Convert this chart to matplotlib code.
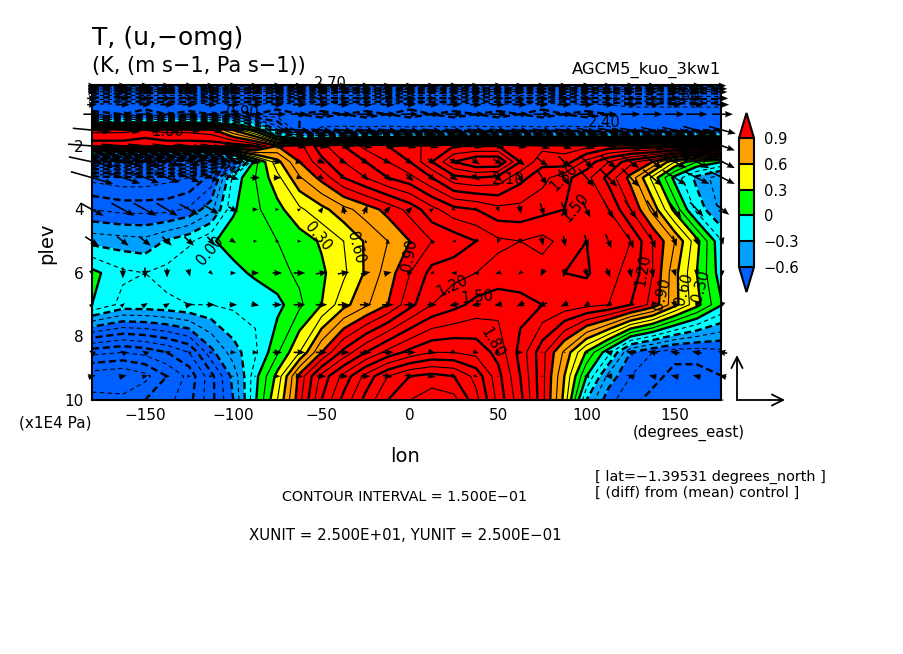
import matplotlib
matplotlib.use("Agg")
import matplotlib.pyplot as plt
import numpy as np

W, H = 904, 654

lon = [-180, -162.5, -150, -137.5, -125, -112.5, -100, -87.5, -75, -62.5, -50, -37.5, -25, -12.5, 0,
       12.5, 25, 37.5, 50, 62.5, 75, 87.5, 100, 112.5, 125, 137.5, 150, 162.5, 177]
plev = [0.1, 0.2, 0.3, 0.5, 0.7, 1, 1.5, 2, 2.5, 3, 4, 5, 6, 7, 8.5, 9.25, 10]

# temperature difference (K), top level first
T_01 = [-3.0, -3.0, -2.95, -3.0, -3.05, -3.0, -2.95, -3.0, -3.0, -3.05, -3.0, -3.0, -2.95, -3.0, -3.0, -3.05, -3.0, -3.0, -2.95, -3.0, -3.0, -3.05, -3.0, -3.0, -2.95, -3.0, -3.0, -3.05, -3.0]
T_02 = [-2.6, -2.55, -2.6, -2.65, -2.6, -2.55, -2.6, -2.6, -2.65, -2.6, -2.55, -2.6, -2.6, -2.65, -2.6, -2.55, -2.6, -2.6, -2.65, -2.6, -2.55, -2.6, -2.6, -2.65, -2.6, -2.55, -2.6, -2.6, -2.65]
T_03 = [-2.2, -2.25, -2.2, -2.15, -2.2, -2.25, -2.2, -2.15, -2.2, -2.25, -2.2, -2.15, -2.2, -2.25, -2.2, -2.15, -2.2, -2.25, -2.2, -2.15, -2.2, -2.25, -2.2, -2.15, -2.2, -2.25, -2.2, -2.15, -2.2]
T_05 = [-1.75, -1.7, -1.75, -1.8, -1.75, -1.7, -1.75, -1.8, -1.75, -1.7, -1.75, -1.8, -1.75, -1.7, -1.75, -1.8, -1.75, -1.7, -1.75, -1.8, -1.75, -1.7, -1.75, -1.8, -1.85, -1.85, -1.9, -1.85, -1.85]
T_07 = [-1.3, -1.3, -1.25, -1.3, -1.3, -1.25, -1.3, -1.3, -1.25, -1.3, -1.3, -1.25, -1.3, -1.3, -1.25, -1.3, -1.3, -1.25, -1.3, -1.3, -1.25, -1.3, -1.3, -1.35, -1.4, -1.4, -1.4, -1.4, -1.4]
T_1 = [-1.15, -1.2, -1.15, -1.2, -1.15, -1.2, -1.15, -1.2, -1.15, -1.2, -1.15, -1.2, -1.15, -1.2, -1.15, -1.2, -1.15, -1.2, -1.15, -1.2, -1.15, -1.2, -1.15, -1.2, -1.2, -1.2, -1.2, -1.2, -1.2]
T_15 = [1.0, 1.0, 1.05, 1.0, 1.0, 0.95, 0.6, 0.2, -0.6, -1.2, -1.4, -1.4, -1.4, -1.4, -1.4, -1.4, -1.4, -1.4, -1.4, -1.4, -1.4, -1.4, -1.4, -1.4, -1.3, -1.3, -1.3, -1.25, -1.2]
T_2 = [1.3, 1.3, 1.35, 1.3, 1.3, 1.3, 1.3, 1.2, 0.9, 1.0, 1.3, 1.5, 1.7, 1.8, 1.9, 2.0, 2.1, 2.1, 2.1, 2.0, 2.0, 2.0, 2.0, 1.9, 1.9, 1.9, 1.9, 1.9, 1.8]
T_25 = [-2.4, -2.4, -2.4, -2.4, -2.35, -2.2, -1.0, 0.1, 0.55, 0.9, 1.15, 1.35, 1.5, 1.65, 1.8, 2.1, 2.4, 2.55, 2.55, 2.1, 1.85, 1.9, 1.6, 1.35, 1.1, 0.9, 0.45, 0.15, 0.0]
T_3 = [-1.1, -1.15, -1.15, -1.1, -1.05, -0.85, -0.1, 0.15, 0.4, 0.73, 0.95, 1.2, 1.35, 1.5, 1.6, 1.8, 2.05, 2.1, 2.05, 1.85, 1.7, 1.55, 1.4, 1.15, 0.85, 0.4, -0.05, -0.35, -0.55]
T_4 = [-0.75, -0.8, -0.8, -0.8, -0.72, -0.5, -0.02, 0.12, 0.25, 0.42, 0.55, 0.7, 0.82, 0.95, 1.1, 1.3, 1.45, 1.5, 1.6, 1.6, 1.55, 1.5, 1.45, 1.35, 1.05, 0.7, 0.25, -0.2, -0.5]
T_5 = [-0.35, -0.38, -0.4, -0.28, -0.18, -0.02, 0.07, 0.1, 0.15, 0.22, 0.32, 0.45, 0.62, 0.75, 0.9, 1.05, 1.1, 1.2, 1.32, 1.35, 1.3, 1.4, 1.5, 1.45, 1.35, 1.05, 0.75, 0.35, -0.15]
T_6 = [0.05, -0.12, -0.15, -0.1, 0.0, -0.02, -0.05, 0.03, 0.1, 0.18, 0.27, 0.42, 0.62, 0.82, 1.05, 1.25, 1.3, 1.35, 1.4, 1.42, 1.42, 1.5, 1.52, 1.4, 1.3, 1.05, 0.65, 0.3, -0.1]
T_7 = [0.0, -0.2, -0.2, -0.18, -0.15, -0.15, -0.12, -0.12, -0.05, 0.12, 0.3, 0.55, 0.72, 0.9, 1.15, 1.35, 1.45, 1.55, 1.6, 1.55, 1.5, 1.45, 1.4, 1.35, 1.2, 1.0, 0.65, 0.35, 0.0]
T_85 = [-1.3, -1.35, -1.3, -1.2, -1.05, -0.65, -0.37, -0.18, 0.13, 0.45, 0.9, 1.25, 1.5, 1.7, 1.85, 1.95, 1.95, 1.9, 1.75, 1.45, 1.1, 0.72, 0.28, -0.1, -0.6, -0.75, -0.85, -0.85, -0.8]
T_925 = [-1.75, -1.8, -1.7, -1.5, -1.3, -0.95, -0.55, -0.05, 0.35, 0.95, 1.4, 1.7, 2.0, 2.25, 2.4, 2.45, 2.4, 2.2, 1.85, 1.5, 1.1, 0.6, 0.0, -0.5, -0.75, -0.85, -0.95, -0.95, -0.9]
T_10 = [-1.6, -1.6, -1.5, -1.4, -1.25, -0.95, -0.6, -0.02, 0.45, 1.0, 1.5, 1.85, 2.15, 2.4, 2.55, 2.65, 2.6, 2.3, 1.9, 1.55, 1.1, 0.55, -0.3, -0.7, -0.85, -0.95, -1.0, -1.0, -0.95]

# zonal wind (m s-1)
u_01 = [4, 4, 5, 4, 5, 4, 5, 4, 5, 4, 5, 4, 5, 4, 4, 4, 5, 4, 5, 4, 4, 4, 5, 4, 5, 4, 4, 5, 4]
u_02 = [4, 5, 5, 4, 5, 5, 4, 5, 5, 5, 4, 5, 5, 5, 5, 4, 5, 5, 5, 4, 5, 5, 5, 4, 5, 5, 5, 5, 5]
u_03 = [4, 5, 6, 5, 5, 6, 5, 5, 6, 5, 5, 6, 5, 5, 6, 5, 5, 6, 5, 5, 6, 5, 5, 6, 5, 5, 6, 5, 5]
u_05 = [5, 6, 6, 5, 6, 6, 6, 5, 6, 6, 6, 5, 6, 6, 6, 5, 6, 6, 6, 5, 6, 6, 6, 5, 6, 6, 6, 6, 6]
u_07 = [5, 7, 6, 7, 7, 6, 7, 7, 6, 7, 7, 6, 7, 7, 6, 7, 7, 6, 7, 7, 6, 7, 7, 6, 7, 7, 7, 7, 7]
u_1 = [9, 9, 9, 9, 9, 9, 9, 9, 9, 9, 9, 9, 9, 9, 9, 9, 9, 9, 9, 9, 9, 9, 9, 9, 10, 10, 10, 11, 11]
u_15 = [20, 18, 16, 14, 12, 12, 12, 11, 12, 11, 11, 10, 10, 10, 10, 10, 9, 9, 9, 9, 10, 10, 10, 11, 11, 12, 13, 14, 14]
u_2 = [25, 22, 18, 15, 13, 11, 9, 8, 7, 7, 7, 7, 7, 7, 7, 7, 7, 7, 7, 7, 8, 8, 9, 10, 11, 12, 13, 13, 13]
u_25 = [24, 20, 16, 14, 12, 10, 8, 6, 5, 4, 4, 4, 4, 4, 4, 4, 4, 4, 5, 5, 6, 6, 7, 8, 9, 10, 12, 13, 13]
u_3 = [22, 18, 15, 13, 11, 9, 6, 5, 4, 3, 3, 3, 3, 4, 4, 4, 4, 4, 4, 4, 5, 6, 8, 9, 9, 10, 12, 13, 13]
u_4 = [12, 12, 12, 11, 10, 8, 5, 3, 2, 2, 2, -1, 2, 3, 3, 2, 2, 1, 1, 1, 2, 3, 4, 5, 6, 6, 7, 7, 7]
u_5 = [7, 6, 6, 5, 5, 4, 3, 2, 2, 2, 1, 1, 0, 0, -1, -2, -2, -2, -1, 0, 1, 1, 2, 3, 3, 3, 2, 2, 1]
u_6 = [1, 0, 0, 0, 1, 2, 3, 4, 5, 6, 6, 6, 5, 4, 3, -2, -3, -3, -3, -2, -2, -1, 1, 2, 1, 1, 1, 0, 0]
u_7 = [2, 2, 3, 3, 4, 4, 4, 4, 5, 6, 6, 6, 6, 6, 6, 5, -5, -5, -4, -4, -5, -4, -3, -3, -3, -2, 1, -1, -1]
u_85 = [-3, -3, -3, -3, -2, 2, 3, 3, 5, 6, 6, 6, 6, 6, 6, 4, 3, 3, 3, 3, 1, -1, -2, -4, -5, -5, -5, -5, -5]
u_925 = [4, 4, 3, 3, 2, 2, 1, 1, 3, 4, 5, 5, 5, 5, 5, 4, 3, 2, 1, 1, 0, -1, -3, -4, -4, -4, -4, -4, -4]
u_10 = [1, 1, 1, 1, 1, 0, 0, 0, 1, 1, 1, 1, 1, 1, 1, 1, 1, 0, 0, 0, 0, 0, -1, -1, -1, -1, -1, -1, -1]

# omega (Pa s-1), positive downward
omg_top = [0.0] * len(lon)
omg_15 = [0.02, 0.02, 0.01, 0.01, 0.01, 0.01, 0.01, 0.01, 0.01, 0.01, 0.01, 0.01, 0.01, 0.01, 0.01, 0.01, 0.01, 0.01, 0.01, 0.01, 0.01, 0.01, 0.02, 0.02, 0.02, 0.03, 0.03, 0.04, 0.04]
omg_2 = [0.02, 0.02, 0.02, 0.02, 0.02, 0.02, 0.02, 0.02, 0.02, 0.02, 0.02, 0.02, 0.02, 0.02, 0.02, 0.02, 0.02, 0.02, 0.02, 0.02, 0.03, 0.03, 0.03, 0.03, 0.04, 0.04, 0.05, 0.05, 0.05]
omg_25 = [0.055, 0.05, 0.05, 0.045, 0.04, 0.03, 0.02, 0.01, 0.01, 0.01, 0.02, 0.02, 0.02, 0.02, 0.02, 0.03, 0.03, 0.03, 0.03, 0.04, 0.05, 0.06, 0.07, 0.07, 0.07, 0.07, 0.07, 0.07, 0.07]
omg_3 = [0.067, 0.065, 0.06, 0.055, 0.05, 0.04, 0.02, 0.0, 0.0, 0.01, 0.02, 0.02, 0.03, 0.04, 0.04, 0.04, 0.03, 0.03, 0.04, 0.06, 0.08, 0.09, 0.1, 0.1, 0.1, 0.09, 0.08, 0.07, 0.07]
omg_4 = [0.07, 0.07, 0.07, 0.07, 0.06, 0.05, 0.03, 0.0, 0.0, -0.01, -0.03, -0.05, -0.05, -0.04, -0.03, -0.02, 0.01, 0.02, 0.03, 0.05, 0.07, 0.08, 0.09, 0.1, 0.1, 0.1, 0.1, 0.08, 0.06]
omg_5 = [0.05, 0.05, 0.05, 0.05, 0.05, 0.05, 0.02, 0.0, 0.0, 0.0, 0.0, 0.0, -0.02, -0.03, -0.03, -0.02, 0.0, 0.02, 0.03, 0.03, 0.05, 0.06, 0.07, 0.08, 0.08, 0.08, 0.06, 0.05, 0.04]
omg_6 = [0.03, 0.06, 0.06, 0.05, 0.04, 0.02, 0.0, 0.0, 0.0, 0.0, -0.01, -0.01, -0.01, -0.01, 0.0, 0.01, 0.0, 0.0, 0.01, 0.02, 0.04, 0.05, 0.05, 0.05, 0.05, 0.05, 0.04, 0.04, 0.03]
omg_7 = [-0.02, -0.02, -0.02, -0.02, -0.01, 0.0, 0.0, 0.01, 0.0, 0.0, 0.0, 0.0, 0.0, 0.0, 0.0, 0.0, 0.01, 0.01, 0.01, 0.02, 0.02, 0.02, 0.02, 0.02, 0.02, 0.03, 0.04, 0.04, 0.03]
omg_85 = [-0.02, -0.02, -0.02, -0.01, -0.01, 0.0, 0.0, 0.0, 0.0, 0.0, 0.0, 0.0, 0.0, 0.0, 0.0, 0.01, 0.01, 0.01, 0.01, 0.0, 0.0, 0.0, 0.0, -0.01, -0.01, -0.01, -0.01, -0.01, -0.01]
omg_925 = [-0.01, -0.01, -0.01, 0.0, 0.0, 0.0, 0.0, 0.0, 0.0, 0.0, 0.0, 0.0, 0.0, 0.01, 0.01, 0.01, 0.01, 0.01, 0.0, 0.0, 0.0, 0.0, 0.0, 0.0, -0.01, -0.01, -0.01, -0.01, -0.01]
omg_10 = [0.0] * len(lon)

T = np.array([T_01, T_02, T_03, T_05, T_07, T_1, T_15, T_2, T_25, T_3, T_4, T_5, T_6, T_7, T_85, T_925, T_10])
u = np.array([u_01, u_02, u_03, u_05, u_07, u_1, u_15, u_2, u_25, u_3, u_4, u_5, u_6, u_7, u_85, u_925, u_10], dtype=float)
omg = np.array([omg_top, omg_top, omg_top, omg_top, omg_top, omg_top, omg_15, omg_2, omg_25, omg_3, omg_4, omg_5, omg_6, omg_7, omg_85, omg_925, omg_10])

shade_levels = [-0.6, -0.3, 0, 0.3, 0.6, 0.9]
shade_colors = ["#00a0ff", "#00ffff", "#00ff00", "#ffff00", "#ffa000"]
cbar_labels = ["\u22120.6", "\u22120.3", "0", "0.3", "0.6", "0.9"]

# contour labels: text, lon, plev, rotation
contour_labels = [
    ("2.10", 56, 3.05, 0), ("1.80", 87, 3.0, 45), ("1.50", 94, 3.95, 50),
    ("0.30", -52, 4.85, -50), ("0.60", -31, 5.2, -75), ("0.90", 0, 5.45, 80),
    ("0.00", -113, 5.3, 50), ("1.20", 24, 6.4, 25), ("1.50", 38, 6.75, 5),
    ("1.80", 47, 8.2, -60), ("1.20", 132, 5.9, 80), ("0.90", 143, 6.65, 75),
    ("0.60", 155, 6.5, 75), ("0.30", 165, 6.4, 75), ("1.80", 155, 0.4, 0),
    ("2.40", 110, 1.25, 0), ("1.80", -137, 1.55, 0), ("0.90", -95, 0.95, 0),
    ("2.70", -45, 0.03, 0),
]

plt.rcParams["font.family"] = ["DejaVu Sans"]
fig = plt.figure(figsize=(W / 100, H / 100), dpi=100)
ax = fig.add_axes([92 / W, (H - 400) / H, 629 / W, 315 / H])


def ftext(x, y, s, **kw):
    fig.text(x / W, 1 - y / H, s, color="black", **kw)


cf = ax.contourf(lon, plev, T, levels=shade_levels, colors=shade_colors, extend="both")
cf.cmap.set_under("#0060ff")
cf.cmap.set_over("#ff0000")
cf.changed()

line_levels = np.arange(-30, 31) * 0.15
major = line_levels[np.arange(len(line_levels)) % 2 == 0]
minor = line_levels[np.arange(len(line_levels)) % 2 == 1]
ax.contour(lon, plev, T, levels=major, colors="k", linewidths=1.7, negative_linestyles=(0, (3, 1.6)))
ax.contour(lon, plev, T, levels=minor, colors="k", linewidths=0.8, negative_linestyles=(0, (4, 3)))

# arrow lengths in pixels: one xunit = 48 px, one yunit = 45 px
X, Y = np.meshgrid(lon, plev)
ax.quiver(X, Y, u / 25 * 48, -omg / 0.25 * 45, angles="uv", scale_units="dots", scale=1, units="dots",
          pivot="mid", width=1.6, headwidth=4, headlength=5, headaxislength=4.5, color="k", clip_on=False, zorder=5)

for txt, x, y, rot in contour_labels:
    ax.text(x, y, txt, fontsize=10.5, rotation=rot, ha="center", va="center", zorder=6)

ax.set_xlim(-180, 176.2)
ax.set_ylim(10, 0.08)
ax.set_xticks([-150, -100, -50, 0, 50, 100, 150])
ax.set_yticks([2, 4, 6, 8, 10])
ax.tick_params(axis="both", length=0, labelsize=11, pad=6)
for sp in ax.spines.values():
    sp.set_linewidth(1.5)

# colour bar
cax = fig.add_axes([739 / W, (H - 292) / H, 15 / W, 179 / H])
cb = fig.colorbar(cf, cax=cax, extend="both", extendfrac=25 / 129, drawedges=True)
cb.set_ticks(shade_levels)
cb.set_ticklabels(cbar_labels)
cb.ax.tick_params(length=0, labelsize=10.5, pad=7)
cb.outline.set_linewidth(1.5)
cb.dividers.set_linewidth(1.5)

# unit vector key
for end in [(785, 400), (737, 355)]:
    ax.annotate("", xy=(end[0], H - end[1]), xytext=(737, H - 400), xycoords="figure pixels",
                textcoords="figure pixels", annotation_clip=False,
                arrowprops=dict(arrowstyle="->,head_length=0.8,head_width=0.4", lw=1.3, color="k",
                                shrinkA=0, shrinkB=0))

ftext(92, 38, "T, (u,\u2212omg)", fontsize=18, ha="left", va="center")
ftext(92, 66, "(K, (m s\u22121, Pa s\u22121))", fontsize=15, ha="left", va="center")
ftext(721, 70, "AGCM5_kuo_3kw1", fontsize=11.8, ha="right", va="center")
ftext(47, 243, "plev", fontsize=14, rotation=90, ha="center", va="center")
ftext(405, 457, "lon", fontsize=14, ha="center", va="center")
ftext(55, 423, "(x1E4 Pa)", fontsize=11, ha="center", va="center")
ftext(745, 433, "(degrees_east)", fontsize=10.8, ha="right", va="center")
ftext(595, 477, "[ lat=\u22121.39531 degrees_north ]", fontsize=10.4, ha="left", va="center")
ftext(595, 493, "[ (diff) from (mean) control ]", fontsize=10.4, ha="left", va="center")
ftext(405, 497, "CONTOUR INTERVAL = 1.500E\u221201", fontsize=10.3, ha="center", va="center")
ftext(405, 535, "XUNIT = 2.500E+01, YUNIT = 2.500E\u221201", fontsize=10.8, ha="center", va="center")

fig.savefig("out.png", dpi=100)
